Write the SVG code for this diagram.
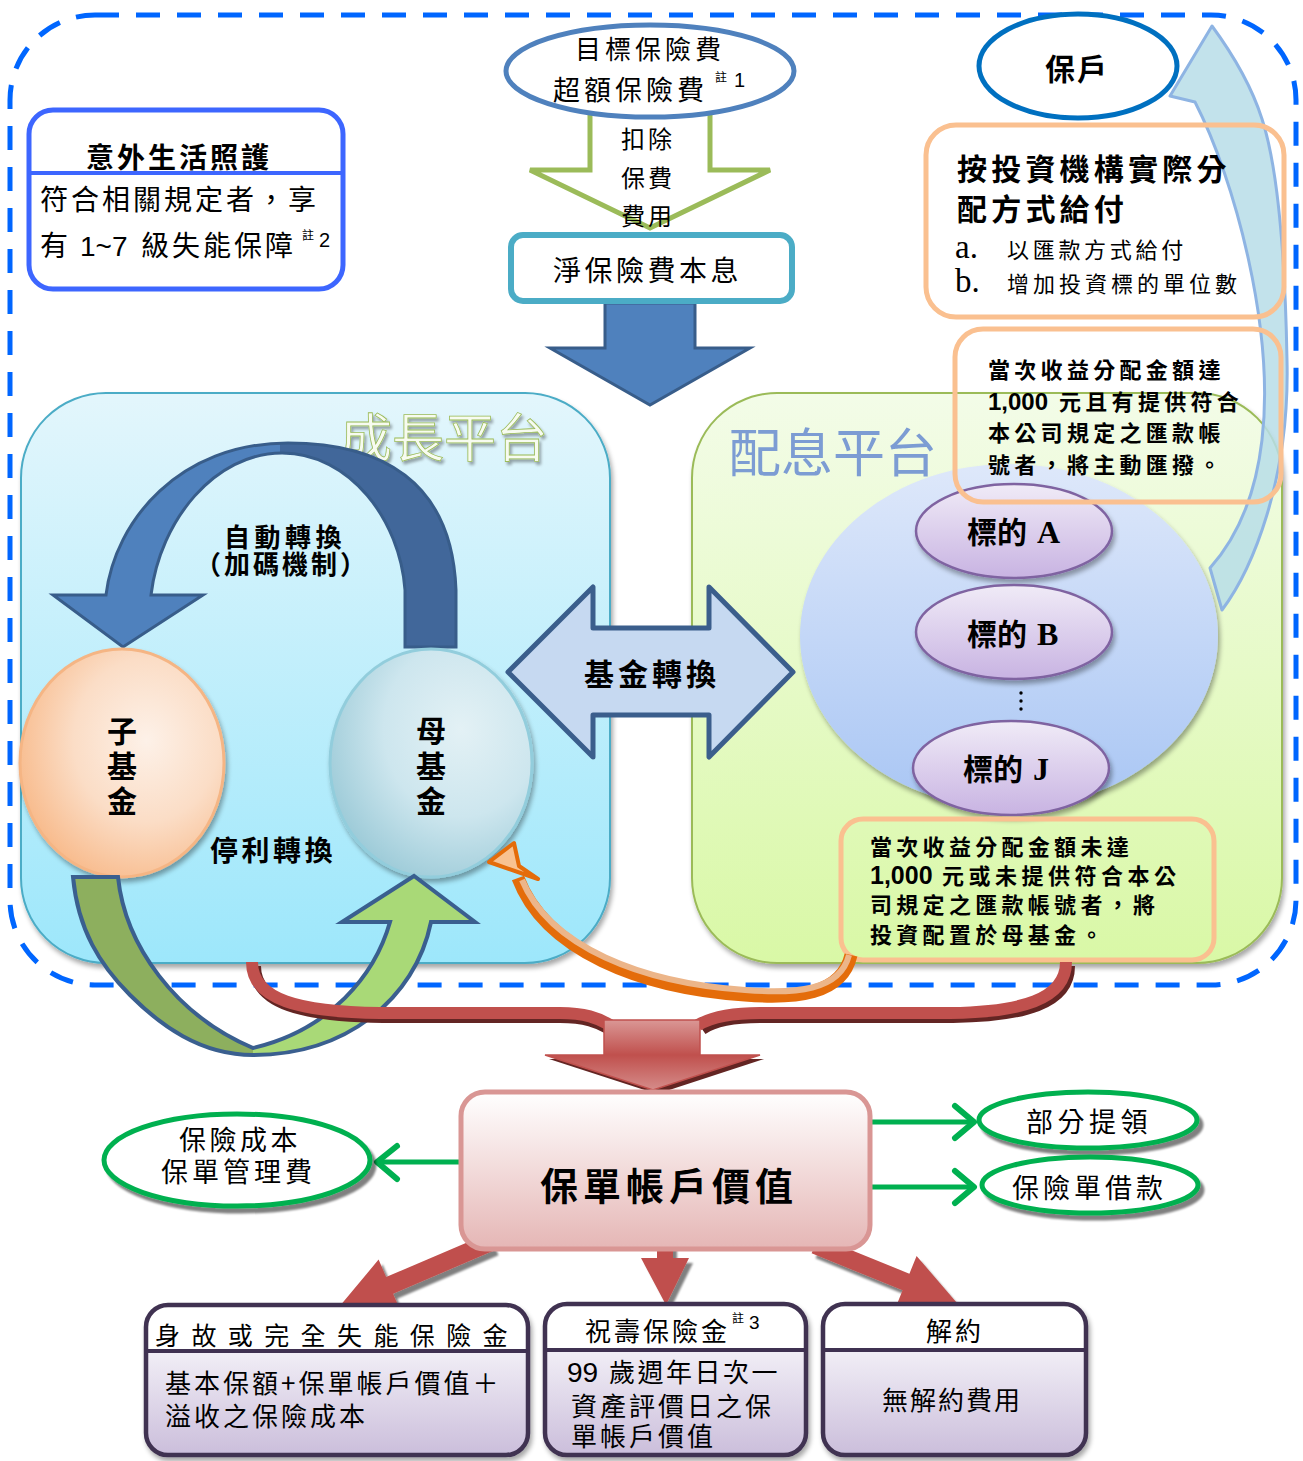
<svg xmlns="http://www.w3.org/2000/svg" width="1303" height="1461" viewBox="0 0 1303 1461">
<defs>
<style>
text { font-family: "Noto Sans CJK TC", "Noto Sans CJK SC", sans-serif; fill: #000; }
.b { font-weight: bold; }
.lat { font-family: "Liberation Sans", Arial, sans-serif; }
.ser { font-family: "Liberation Serif", "Times New Roman", serif; }
.vert { writing-mode: vertical-rl; }
.org { fill: none; stroke: #FAC090; stroke-width: 5; }
.grn { fill: none; stroke: #00B050; stroke-width: 5; }
.chev { fill: none; stroke: #00B050; stroke-width: 6; stroke-linecap: round; stroke-linejoin: round; }
.tgt { fill: url(#gTarget); stroke: #7F63A1; stroke-width: 2.5; }
.pbox { stroke: #3F3151; stroke-width: 4.5; fill: url(#gPurple); }
.redarr { fill: #C0504D; }
</style>
<linearGradient id="gLP" x1="0" y1="0" x2="0" y2="1"><stop offset="0" stop-color="#E3F6FC"/><stop offset="1" stop-color="#9DE7FB"/></linearGradient>
<linearGradient id="gRP" x1="0" y1="0" x2="0" y2="1"><stop offset="0" stop-color="#F3FCE8"/><stop offset="1" stop-color="#D9F8A6"/></linearGradient>
<linearGradient id="gCircle" x1="0" y1="0" x2="0" y2="1"><stop offset="0" stop-color="#DEE8FA"/><stop offset="1" stop-color="#A9C6F4"/></linearGradient>
<linearGradient id="gTarget" x1="0" y1="0" x2="0" y2="1"><stop offset="0" stop-color="#F0EBF7"/><stop offset="1" stop-color="#C8B3E2"/></linearGradient>
<radialGradient id="gZi" cx="0.62" cy="0.4" r="0.65"><stop offset="0" stop-color="#FDF1E8"/><stop offset="0.55" stop-color="#FBDDC6"/><stop offset="1" stop-color="#F8BC8E"/></radialGradient>
<radialGradient id="gMu" cx="0.65" cy="0.35" r="0.7"><stop offset="0" stop-color="#E3F1F5"/><stop offset="0.55" stop-color="#CDE6EE"/><stop offset="1" stop-color="#9FCCD9"/></radialGradient>
<linearGradient id="gArch" gradientUnits="userSpaceOnUse" x1="106" y1="0" x2="456" y2="0"><stop offset="0.497" stop-color="#4F81BD"/><stop offset="0.497" stop-color="#41679A"/></linearGradient>
<linearGradient id="gU" gradientUnits="userSpaceOnUse" x1="73" y1="0" x2="475" y2="0"><stop offset="0.448" stop-color="#8DAF5E"/><stop offset="0.448" stop-color="#A9D977"/></linearGradient>
<linearGradient id="gMain" x1="0" y1="0" x2="0" y2="1"><stop offset="0" stop-color="#FFFFFF"/><stop offset="1" stop-color="#E5B6B5"/></linearGradient>
<linearGradient id="gPurple" x1="0" y1="0" x2="0" y2="1"><stop offset="0" stop-color="#FFFFFF"/><stop offset="0.3" stop-color="#FFFFFF"/><stop offset="0.31" stop-color="#F1EEF6"/><stop offset="1" stop-color="#CBBEDB"/></linearGradient>
<linearGradient id="gRedShaft" gradientUnits="userSpaceOnUse" x1="0" y1="1020" x2="0" y2="1090"><stop offset="0" stop-color="#DA9795"/><stop offset="0.5" stop-color="#C0504D"/><stop offset="1" stop-color="#D58C8A"/></linearGradient>
<filter id="sh" x="-10%" y="-10%" width="130%" height="130%"><feGaussianBlur in="SourceAlpha" stdDeviation="2.5"/><feOffset dx="2" dy="4"/><feComponentTransfer><feFuncA type="linear" slope="0.35"/></feComponentTransfer><feMerge><feMergeNode/><feMergeNode in="SourceGraphic"/></feMerge></filter>
<filter id="hard" x="-10%" y="-10%" width="130%" height="130%"><feGaussianBlur in="SourceAlpha" stdDeviation="1"/><feOffset dx="4" dy="5"/><feComponentTransfer><feFuncA type="linear" slope="0.5"/></feComponentTransfer><feMerge><feMergeNode/><feMergeNode in="SourceGraphic"/></feMerge></filter>
<filter id="tsh" x="-10%" y="-10%" width="130%" height="140%"><feGaussianBlur in="SourceAlpha" stdDeviation="1.5"/><feOffset dx="2" dy="3"/><feComponentTransfer><feFuncA type="linear" slope="0.35"/></feComponentTransfer><feMerge><feMergeNode/><feMergeNode in="SourceGraphic"/></feMerge></filter>
</defs>

<rect width="1303" height="1461" fill="#FFFFFF"/>

<!-- outer dashed boundary -->
<rect id="boundary" x="10" y="15" width="1286" height="970" rx="85" fill="none" stroke="#0066FF" stroke-width="5" stroke-dasharray="24 17"/>

<!-- platforms -->
<g id="growth-platform">
<rect x="21" y="393" width="589" height="570" rx="85" fill="url(#gLP)" stroke="#4BACC6" stroke-width="2" filter="url(#sh)"/>
<text x="340" y="457" font-size="52" stroke="#9BBB59" stroke-width="0.8" filter="url(#tsh)" style="fill:#F7FBF0">成長平台</text>
</g>
<g id="dividend-platform">
<rect x="692" y="393" width="590" height="570" rx="85" fill="url(#gRP)" stroke="#9BBB59" stroke-width="2" filter="url(#sh)"/>
<text x="729" y="472" font-size="52" style="fill:#7C9CD3">配息平台</text>
</g>

<!-- light blue arrow to 保戶 -->
<g id="arrow-to-holder">
<path d="M1212,26 L1170,96 L1195,102 C1235,180 1275,330 1262,440 C1255,500 1235,540 1210,568 L1222,610 C1252,570 1290,480 1287,360 C1285,250 1277,165 1262,119 Q1248,75 1212,26 Z" fill="#B7DDE8" fill-opacity="0.85" stroke="#8EB4E3" stroke-width="3" stroke-linejoin="round"/>
</g>

<g id="target-circle">
<ellipse cx="1009" cy="636" rx="209" ry="172" fill="url(#gCircle)" filter="url(#sh)"/>
</g>
<g id="target-A"><ellipse class="tgt" cx="1014" cy="531" rx="98" ry="47" filter="url(#sh)"/><text class="b" x="967" y="543" font-size="30">標的<tspan class="ser" font-size="32" dx="10">A</tspan></text></g>
<g id="target-B"><ellipse class="tgt" cx="1014" cy="632" rx="98" ry="47" filter="url(#sh)"/><text class="b" x="967" y="645" font-size="30">標的<tspan class="ser" font-size="32" dx="10">B</tspan></text></g>
<g id="target-dots"><circle cx="1021" cy="693" r="1.7" fill="#000"/><circle cx="1021" cy="701" r="1.7" fill="#000"/><circle cx="1021" cy="709" r="1.7" fill="#000"/></g>
<g id="target-J"><ellipse class="tgt" cx="1011" cy="768" rx="98" ry="47" filter="url(#sh)"/><text class="b" x="963" y="780" font-size="30">標的<tspan class="ser" font-size="32" dx="10">J</tspan></text></g>

<!-- orange boxes top right -->
<g id="pay-method">
<rect class="org" x="926" y="125" width="358" height="192" rx="30"/>
<text class="b" font-size="30" letter-spacing="4.2"><tspan x="957" y="180">按投資機構實際分</tspan><tspan x="957" y="220">配方式給付</tspan></text>
<text font-size="22"><tspan class="ser" x="955" y="258" font-size="33">a.</tspan><tspan x="1007" y="258" letter-spacing="3.7">以匯款方式給付</tspan><tspan class="ser" x="955" y="292" font-size="33">b.</tspan><tspan x="1007" y="292" letter-spacing="4">增加投資標的單位數</tspan></text>
</g>
<g id="condition-reach">
<rect class="org" x="955" y="329" width="326" height="173" rx="28"/>
<text class="b" font-size="22"><tspan x="988" y="378" letter-spacing="4.3">當次收益分配金額達</tspan><tspan class="lat" x="988" y="410" font-size="24">1,000</tspan><tspan x="1059" y="410" letter-spacing="4.3">元且有提供符合</tspan><tspan x="988" y="441" letter-spacing="4.3">本公司規定之匯款帳</tspan><tspan x="988" y="473" letter-spacing="4.3">號者，將主動匯撥。</tspan></text>
</g>

<g id="policyholder">
<ellipse cx="1078" cy="66" rx="99" ry="52" fill="#FFFFFF" stroke="#0070C0" stroke-width="5"/>
<text class="b" x="1045" y="80" font-size="30" letter-spacing="2">保戶</text>
</g>

<!-- accident care box -->
<g id="accident-care">
<rect x="29" y="110" width="314" height="179" rx="24" fill="#FFFFFF" stroke="#3D66FF" stroke-width="5"/>
<line x1="29" y1="173" x2="343" y2="173" stroke="#3D66FF" stroke-width="4"/>
<text class="b" x="86" y="168" font-size="28" letter-spacing="3">意外生活照護</text>
<text font-size="28"><tspan x="40" y="210" letter-spacing="3">符合相關規定者，享</tspan><tspan x="40" y="256">有</tspan><tspan class="lat" x="80" y="256">1~7</tspan><tspan x="141" y="256" letter-spacing="3">級失能保障</tspan><tspan x="302" y="240" font-size="12">註</tspan><tspan class="lat" x="319" y="247" font-size="20">2</tspan></text>
</g>

<!-- top center flow -->
<g id="connectors-top">
<path id="deduct-arrow" d="M590,110 L590,170 L530,170 L650,228 L770,170 L710,170 L710,110" fill="#FFFFFF" stroke="#9BBB59" stroke-width="5" stroke-linejoin="miter"/>
<path id="net-arrow" d="M605,303 L695,303 L695,348 L750,348 L650,405 L550,348 L605,348 Z" fill="#4F81BD" stroke="#385D8A" stroke-width="3" stroke-linejoin="miter"/>
</g>
<g id="premium">
<ellipse cx="650" cy="71" rx="144" ry="46" fill="#FFFFFF" stroke="#4F81BD" stroke-width="5"/>
<text font-size="26" letter-spacing="4"><tspan x="575" y="59">目標保險費</tspan><tspan x="553" y="100" font-size="27">超額保險費</tspan><tspan x="715" y="82" font-size="12" letter-spacing="0">註</tspan><tspan class="lat" x="734" y="87" font-size="20" letter-spacing="0">1</tspan></text>
</g>
<g id="deduct-label">
<text font-size="24" letter-spacing="3"><tspan x="621" y="148">扣除</tspan><tspan x="621" y="187">保費</tspan><tspan x="621" y="225">費用</tspan></text>
</g>
<g id="net-premium">
<rect x="511" y="235" width="281" height="66" rx="12" fill="#FFFFFF" stroke="#4BACC6" stroke-width="6"/>
<text x="553" y="281" font-size="28" letter-spacing="3.5">淨保險費本息</text>
</g>

<!-- growth platform internals -->
<g id="connectors-growth">
<path id="auto-switch-arrow" d="M405,647 L456,647 L456,590 C452,480 380,443 288,443 C180,443 115,520 106,595 L53,595 L123,647 L203,595 L151,595 C160,520 215,453 282,453 C350,453 400,520 405,590 Z" fill="url(#gArch)" stroke="#385D8A" stroke-width="3" stroke-linejoin="miter"/>
</g>
<g id="auto-switch-label">
<text class="b" font-size="26"><tspan x="224" y="547" letter-spacing="4.5">自動轉換</tspan><tspan x="195" y="574" letter-spacing="3">（加碼機制）</tspan></text>
</g>
<g id="child-fund">
<ellipse cx="122" cy="763" rx="102" ry="114" fill="url(#gZi)" stroke="#F5B584" stroke-width="3" filter="url(#sh)"/>
<text class="b vert" x="122" y="716" font-size="30" letter-spacing="5">子基金</text>
</g>
<g id="parent-fund">
<ellipse cx="431" cy="763" rx="101" ry="114" fill="url(#gMu)" stroke="#92CDDC" stroke-width="3" filter="url(#sh)"/>
<text class="b vert" x="431" y="716" font-size="30" letter-spacing="5">母基金</text>
</g>
<g id="take-profit-label">
<text class="b" x="210" y="861" font-size="28" letter-spacing="3.5">停利轉換</text>
</g>

<!-- fund switch -->
<g id="fund-switch">
<path d="M508,672 L593,587 L593,628 L709,628 L709,587 L793,672 L709,757 L709,715 L593,715 L593,757 Z" fill="#C6D9F1" stroke="#3B5E8C" stroke-width="5" stroke-linejoin="round"/>
<text class="b" x="584" y="685" font-size="30" letter-spacing="4">基金轉換</text>
</g>

<!-- bottom callout -->
<g id="condition-not-reach">
<rect class="org" x="841" y="819" width="373" height="141" rx="22"/>
<text class="b" font-size="22" letter-spacing="4.3"><tspan x="870" y="855">當次收益分配金額未達</tspan><tspan class="lat" x="870" y="884" font-size="25" letter-spacing="0">1,000</tspan><tspan x="942" y="884" letter-spacing="4.5">元或未提供符合本公</tspan><tspan x="870" y="913">司規定之匯款帳號者，將</tspan><tspan x="870" y="943">投資配置於母基金。</tspan></text>
</g>

<!-- lower connectors -->
<g id="connectors">
<path id="take-profit-arrow" d="M73,877 L118,877 C125,945 175,1015 253,1048 C330,1030 375,975 390,922 L342,922 L414,876 L475,922 L431,922 C415,1000 345,1055 253,1055 C200,1055 160,1025 130,995 C100,965 78,930 73,877 Z" fill="url(#gU)" stroke="#3A5F8F" stroke-width="4" stroke-linejoin="miter"/>
<g id="to-parent-arrow">
<path d="M851,955 C842,995 795,999 745,995 C640,988 545,950 518,878" fill="none" stroke="#E46C0A" stroke-width="13" stroke-linecap="butt"/>
<path d="M849,955 C840,991 795,994 745,990 C642,983 550,947 522,880" fill="none" stroke="#ECB589" stroke-width="6"/>
<path d="M489,862 L514,843 L519,866 L538,879 Z" fill="#F8C291" stroke="#E46C0A" stroke-width="4" stroke-linejoin="round"/>
</g>
<g id="merge-arrow">
<path d="M255,966 C255,1004 303,1016 383,1017 L560,1017 C585,1017 598,1022 610,1029" fill="none" stroke="#632523" stroke-width="12"/>
<path d="M1069,966 C1069,1004 1023,1016 953,1017 L760,1017 C730,1017 712,1022 702,1029" fill="none" stroke="#632523" stroke-width="12"/>
<path d="M252,962 C252,1000 300,1012 380,1013 L560,1013 C585,1013 598,1018 610,1025" fill="none" stroke="#C0504D" stroke-width="12"/>
<path d="M1066,962 C1066,1000 1020,1012 950,1013 L760,1013 C730,1013 710,1018 698,1025" fill="none" stroke="#C0504D" stroke-width="12"/>
<path d="M549,1059 L764,1059 L657,1094 Z" fill="#632523"/>
<path d="M604,1020 L700,1020 L700,1055 L760,1055 L653,1090 L545,1055 L604,1055 Z" fill="url(#gRedShaft)" stroke="#C0504D" stroke-width="1.5"/>
</g>
<g id="side-arrows">
<line x1="459" y1="1162" x2="378" y2="1162" class="grn"/>
<polyline points="397,1146 377,1162 397,1179" class="chev"/>
<line x1="872" y1="1122" x2="972" y2="1122" class="grn"/>
<polyline points="955,1106 974,1122 955,1138" class="chev"/>
<line x1="872" y1="1187" x2="972" y2="1187" class="grn"/>
<polyline points="955,1171 974,1187 955,1203" class="chev"/>
</g>
<g id="down-arrows" filter="url(#hard)">
<polygon class="redarr" points="487.5,1233.7 386.1,1277.1 378.6,1259.6 339,1307 400.6,1311.2 393.1,1293.7 494.5,1250.3"/>
<polygon class="redarr" points="657,1222 673,1222 673,1258 689,1258 666,1305 641,1258 657,1258"/>
<polygon class="redarr" points="818.4,1236.7 909.4,1273.7 916.6,1256 957,1303 895.4,1308 902.6,1290.3 811.6,1253.3"/>
</g>
</g>

<!-- account value -->
<g id="account-value">
<rect x="461" y="1092" width="409" height="157" rx="24" fill="url(#gMain)" stroke="#D99694" stroke-width="5"/>
<text class="b" x="540" y="1200" font-size="38" letter-spacing="5">保單帳戶價值</text>
</g>
<g id="cost">
<ellipse cx="237" cy="1160" rx="133" ry="46" fill="#FFFFFF" stroke="#00B050" stroke-width="5" filter="url(#hard)"/>
<text font-size="27"><tspan x="179" y="1150" letter-spacing="3.5">保險成本</tspan><tspan x="161" y="1182" letter-spacing="4">保單管理費</tspan></text>
</g>
<g id="partial-withdrawal">
<ellipse cx="1088" cy="1120" rx="109" ry="28" fill="#FFFFFF" stroke="#00B050" stroke-width="5" filter="url(#hard)"/>
<text x="1026" y="1132" font-size="27" letter-spacing="4.5">部分提領</text>
</g>
<g id="policy-loan">
<ellipse cx="1090" cy="1185" rx="108" ry="28" fill="#FFFFFF" stroke="#00B050" stroke-width="5" filter="url(#hard)"/>
<text x="1012" y="1198" font-size="27" letter-spacing="4">保險單借款</text>
</g>

<!-- bottom boxes -->
<g id="death-benefit">
<rect class="pbox" x="146" y="1305" width="382" height="150" rx="22" filter="url(#sh)"/>
<line x1="146" y1="1351" x2="528" y2="1351" stroke="#3F3151" stroke-width="4"/>
<text x="155" y="1345" font-size="25" letter-spacing="11.4">身故或完全失能保險金</text>
<text font-size="26" letter-spacing="3"><tspan x="165" y="1393">基本保額+保單帳戶價值＋</tspan><tspan x="165" y="1426">溢收之保險成本</tspan></text>
</g>
<g id="longevity-benefit">
<rect class="pbox" x="545" y="1304" width="261" height="151" rx="22" filter="url(#sh)"/>
<line x1="545" y1="1350" x2="806" y2="1350" stroke="#3F3151" stroke-width="4"/>
<text font-size="26"><tspan x="585" y="1341" letter-spacing="3">祝壽保險金</tspan><tspan x="732" y="1323" font-size="12">註</tspan><tspan class="lat" x="749" y="1329" font-size="19">3</tspan></text>
<text font-size="26"><tspan class="lat" x="567" y="1382" font-size="28">99</tspan><tspan x="609" y="1382" letter-spacing="2.5">歲週年日次一</tspan><tspan x="571" y="1416" letter-spacing="3">資產評價日之保</tspan><tspan x="571" y="1446" letter-spacing="3">單帳戶價值</tspan></text>
</g>
<g id="surrender">
<rect class="pbox" x="823" y="1304" width="263" height="151" rx="22" filter="url(#sh)"/>
<line x1="823" y1="1350" x2="1086" y2="1350" stroke="#3F3151" stroke-width="4"/>
<text x="926" y="1341" font-size="26" letter-spacing="3">解約</text>
<text x="882" y="1410" font-size="26" letter-spacing="2">無解約費用</text>
</g>
</svg>
